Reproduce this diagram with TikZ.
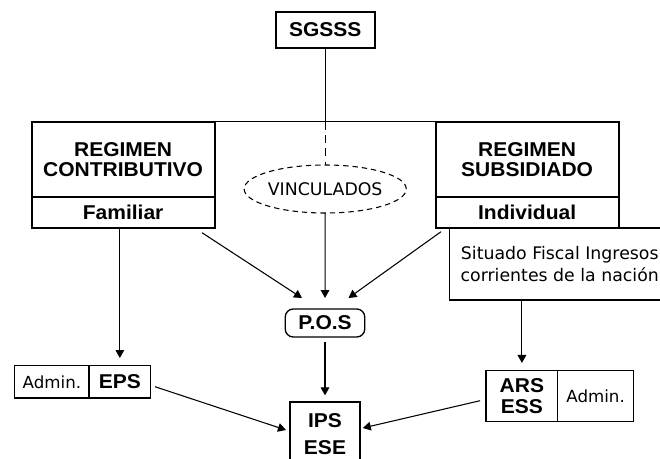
\documentclass[tikz,border=0pt]{standalone}
\usepackage{fontspec}
\setmainfont{DejaVu Sans}
\newfontfamily\hb{Liberation Sans}[FakeStretch=1.05]
\usetikzlibrary{arrows.meta,calc,shapes.geometric}
\begin{document}
\begin{tikzpicture}[x=0.75pt,y=-0.75pt,
  every node/.style={inner sep=0pt, outer sep=0pt, align=center},
  sz/.style 2 args={minimum width=#1*0.75pt, minimum height=#2*0.75pt},
  heavy/.style={draw, line width=1.5pt},
  light/.style={draw, line width=1pt},
  bold/.style={font=\hb\bfseries\fontsize{15}{15}\selectfont},
  plain/.style={font=\fontsize{13}{16.5}\selectfont},
  small/.style={font=\fontsize{12.5}{15}\selectfont},
  conn/.style={line width=0.8pt},
  arr/.style={conn, -{Triangle[width=6.5pt,length=6pt]}}]

\useasboundingbox (0,0) rectangle (660,458);
\fill[white] (0,0) rectangle (660,458);
\clip (0,0) rectangle (660,458);

% top of the hierarchy
\node[heavy, bold, sz={99}{36.6}] (sg) at (325.2,30) {SGSSS};

% the two regimes
\node[light, plain, sz={220.5}{72}] (sit) at (559.75,264)
  {Situado Fiscal Ingresos\\corrientes de la nación};
\node[heavy, bold, sz={183}{75}] (rc) at (123.1,159.2) {REGIMEN\\CONTRIBUTIVO};
\node[heavy, bold, sz={183}{31.6}] (fam) at (123.1,212.5) {Familiar};
\node[heavy, bold, sz={183}{75}] (rs) at (527.1,159.2) {REGIMEN\\SUBSIDIADO};
\node[heavy, bold, sz={183}{31.6}] (ind) at (527.1,212.5) {Individual};

\node[ellipse, draw, line width=0.8pt, dash pattern=on 4pt off 3pt,
      plain, sz={143}{48}] (vin) at (325.2,189) {VINCULADOS};

% plan and providers
\node[light, rounded corners=6pt, bold, sz={79.5}{28}] (pos) at (325,323) {P.O.S};
\node[heavy, bold, font=\hb\bfseries\fontsize{15}{20}\selectfont,
      sz={70}{64}] (ips) at (325,434) {IPS\\ESE};

% administrators
\node[light, small, sz={74.3}{32.3}] (adl) at (51.9,381.9) {Admin.};
\node[light, bold, sz={61.7}{32.3}] (epsl) at (119.85,381.9) {EPS};
\node[light, bold, font=\hb\bfseries\fontsize{15}{16}\selectfont,
      sz={71.7}{51}] (arsl) at (521.9,396.2) {ARS\\ESS};
\node[light, small, sz={75.7}{51}] (adr) at (595.6,396.2) {Admin.};

% connectors
\draw[conn] (rc.north east) -- (rs.north west);
\draw[conn] (sg.south) -- (sg.south |- rc.north) coordinate (jn);
\draw[conn, dash pattern=on 6pt off 4pt] (jn) -- (vin.north);
\draw[arr, shorten >=8.25pt] (vin.south) -- (pos.north);
\draw[arr] ($(fam.south east)+(-12.6,4.4)$) -- ($(pos.north)+(-23,-11)$);
\draw[arr] ($(ind.south west)+(5.4,3.4)$) -- ($(pos.north)+(23.5,-11)$);
\draw[arr, shorten <=4pt, shorten >=5pt] (pos.south) -- (ips.north);
\draw[arr, shorten >=5.8pt] (fam.south -| epsl.north) -- (epsl.north);
\draw[arr, shorten >=5.8pt] (sit.south -| arsl.north) -- (arsl.north);
\draw[arr] ($(epsl.east)+(4.3,4.8)$) -- ($(ips.north west)+(-4,28)$);
\draw[arr] ($(arsl.west)+(-6,4.5)$) -- ($(ips.north east)+(2.8,26)$);
\end{tikzpicture}
\end{document}
